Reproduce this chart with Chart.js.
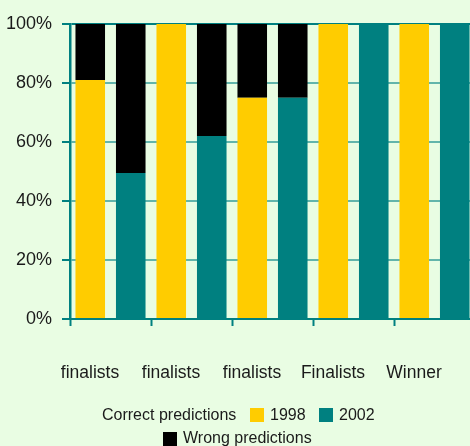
<!DOCTYPE html>
<html>
<head>
<meta charset="utf-8">
<script src="https://cdn.jsdelivr.net/npm/chart.js@4.4.1/dist/chart.umd.min.js"></script>
<style>
  html, body { margin: 0; padding: 0; background: #e9fde3; overflow: hidden; }
  #wrap { position: relative; width: 470px; height: 446px; overflow: hidden; }
  #box { position: absolute; left: 0; top: 0; width: 475px; height: 446px; }
  .lg { position: absolute; font-family: "Liberation Sans", Arial, sans-serif; font-size: 16px; color: #1a1a1a; line-height: 18px; white-space: nowrap; }
  .sw { position: absolute; width: 14px; height: 14px; }
</style>
</head>
<body>
<div id="wrap">
  <div id="box"><canvas id="c"></canvas></div>
  <span class="lg" style="left:102px; top:406px;">Correct predictions</span>
  <span class="sw" style="left:250px; top:408px; background:#ffcc00;"></span>
  <span class="lg" style="left:270px; top:406px;">1998</span>
  <span class="sw" style="left:319px; top:408px; background:#008080;"></span>
  <span class="lg" style="left:339px; top:406px;">2002</span>
  <span class="sw" style="left:163px; top:432px; background:#000000;"></span>
  <span class="lg" style="left:183px; top:429px;">Wrong predictions</span>
</div>
<script>
// categories and values (percent of predictions)
const categories = ['finalists', 'finalists', 'finalists', 'Finalists', 'Winner'];
const correct1998 = [81, 100, 75, 100, 100];
const wrong1998   = [19, 0, 25, 0, 0];
const correct2002 = [49.5, 62, 75, 100, 100];
const wrong2002   = [50.5, 38, 25, 0, 0];
const yTicks = [0, 20, 40, 60, 80, 100];

const TEAL = '#008080';
const YELLOW = '#ffcc00';

const barOpts = { categoryPercentage: 1.0, barPercentage: 0.73, borderWidth: 0 };

new Chart(document.getElementById('c'), {
  type: 'bar',
  data: {
    labels: categories,
    datasets: [
      { label: '1998', data: correct1998, backgroundColor: YELLOW, stack: 's1998', ...barOpts },
      { label: 'Wrong 1998', data: wrong1998, backgroundColor: '#000000', stack: 's1998', ...barOpts },
      { label: '2002', data: correct2002, backgroundColor: TEAL, stack: 's2002', ...barOpts },
      { label: 'Wrong 2002', data: wrong2002, backgroundColor: '#000000', stack: 's2002', ...barOpts }
    ]
  },
  options: {
    responsive: true, maintainAspectRatio: false, animation: false,
    layout: { padding: { top: 24, left: 0, right: 0, bottom: 0 } },
    plugins: { legend: { display: false }, tooltip: { enabled: false } },
    scales: {
      x: {
        stacked: true,
        grid: { offset: true, drawOnChartArea: false, tickLength: 7, tickColor: TEAL, tickWidth: 2 },
        border: { color: TEAL, width: 2 },
        ticks: {
          color: '#1a1a1a', padding: 37, labelOffset: -20.5, maxRotation: 0,
          font: { family: '"Liberation Sans", Arial, sans-serif', size: 17.5 }
        },
        afterFit: s => { s.height = 127; s.paddingRight = 0; s.paddingLeft = 0; }
      },
      y: {
        stacked: true, min: 0, max: 100,
        afterBuildTicks: s => { s.ticks = yTicks.map(v => ({ value: v })); },
        grid: {
          color: ctx => (ctx.tick && ctx.tick.value === 100) ? TEAL : '#62b5ab',
          lineWidth: 2, tickLength: 8, tickColor: TEAL, tickWidth: 2
        },
        border: { color: TEAL, width: 2.5 },
        ticks: {
          color: '#1a1a1a', padding: 10, callback: v => v + '%',
          font: { family: '"Liberation Sans", Arial, sans-serif', size: 18 }
        },
        afterFit: s => { s.width = 70; }
      }
    }
  }
});
</script>
</body>
</html>
